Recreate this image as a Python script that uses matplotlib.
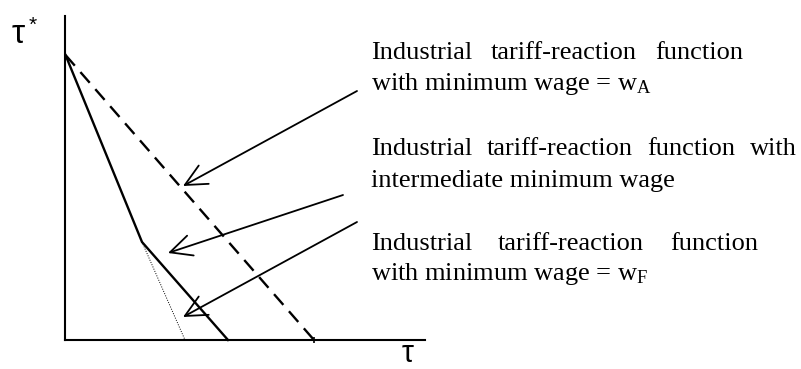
import matplotlib
matplotlib.use("Agg")
import matplotlib.pyplot as plt
from matplotlib.patches import FancyArrowPatch

# Tariff-reaction schedules (horizontal: tau, vertical: tau*)
intercept = 285.0
kink = (77.0, 98.0)
solid_x = [0.5, kink[0], 163.0]
solid_y = [intercept, kink[1], 0.0]
dotted_x = [kink[0], 120.0]
dotted_y = [kink[1], 0.0]
dashed_x = [0.5, 249.0]
dashed_y = [intercept, 0.0]

# Annotation arrows: (tail, head) pairs
arrow_tails = [(292.0, 249.0), (278.0, 145.0), (292.0, 118.0)]
arrow_heads = [(118.0, 154.0), (103.0, 87.0), (118.0, 23.0)]

# Label blocks: (first line, second line, right edge of first line, baselines)
label_lines = [
    ("Industrial tariff-reaction function", r"with minimum wage = w$_{\mathrm{A}}$", 678.0, (281.0, 250.0)),
    ("Industrial tariff-reaction function with", "intermediate minimum wage", 732.0, (185.0, 153.0)),
    ("Industrial tariff-reaction function", r"with minimum wage = w$_{\mathrm{F}}$", 693.0, (90.0, 60.0)),
]
label_left = 306.0

W, H = 801, 369
fig = plt.figure(figsize=(W / 100, H / 100), dpi=100)
plt.rcParams["mathtext.fontset"] = "custom"
plt.rcParams["mathtext.rm"] = "Liberation Serif"
plt.rcParams["mathtext.it"] = "Liberation Serif:italic"

ox, oy, aw, ah = 65, 340, 360, 324
ax = fig.add_axes([ox / W, (H - oy) / H, aw / W, ah / H])
ax.set_xlim(0, aw)
ax.set_ylim(0, ah)
for s in ("top", "right"):
    ax.spines[s].set_visible(False)
for s in ("left", "bottom"):
    ax.spines[s].set_linewidth(1.5)
ax.set_xticks([])
ax.set_yticks([])
ax.patch.set_alpha(0)

ax.plot(solid_x, solid_y, color="black", lw=1.7, solid_joinstyle="miter", clip_on=False)
ax.plot(dotted_x, dotted_y, color="black", lw=0.7, linestyle=(0, (1, 1.5)), clip_on=False)
ax.plot(dashed_x, dashed_y, color="black", lw=1.7, linestyle=(0, (6, 3.6)), clip_on=False)
ax.plot([dashed_x[-1]], [0], marker="|", color="black", ms=4, mew=1.2, clip_on=False)

for tail, head in zip(arrow_tails, arrow_heads):
    ax.add_patch(FancyArrowPatch(tail, head,
                                 arrowstyle="->,head_length=15.5,head_width=7.5",
                                 mutation_scale=1, lw=1.3, color="black",
                                 shrinkA=0, shrinkB=0, clip_on=False))

text_kw = dict(fontsize=19, family="Liberation Serif", color="black",
               va="baseline", ha="left", clip_on=False)

renderer = fig.canvas.get_renderer()
inv = ax.transData.inverted()


def justified(words, left, right, y):
    items = [ax.text(left, y, w, **text_kw) for w in words]
    widths = []
    for t in items:
        bb = t.get_window_extent(renderer)
        x0 = inv.transform((bb.x0, bb.y0))[0]
        x1 = inv.transform((bb.x1, bb.y0))[0]
        widths.append(x1 - x0)
    gap = (right - left - sum(widths)) / (len(words) - 1)
    x = left
    for t, w in zip(items, widths):
        t.set_x(x)
        x += w + gap


for first, second, right, (y1, y2) in label_lines:
    justified(first.split(), label_left, right, y1)
    ax.text(label_left, y2, second, **text_kw)

ax.text(-53, 297, "τ", fontsize=24, family="Liberation Sans", va="baseline", ha="left", clip_on=False)
ax.text(-36, 309, "*", fontsize=15, family="Liberation Sans", va="baseline", ha="left", clip_on=False)
ax.text(337, -22, "τ", fontsize=22, family="Liberation Sans", va="baseline", ha="left", clip_on=False)

fig.savefig("out.png", dpi=100)
